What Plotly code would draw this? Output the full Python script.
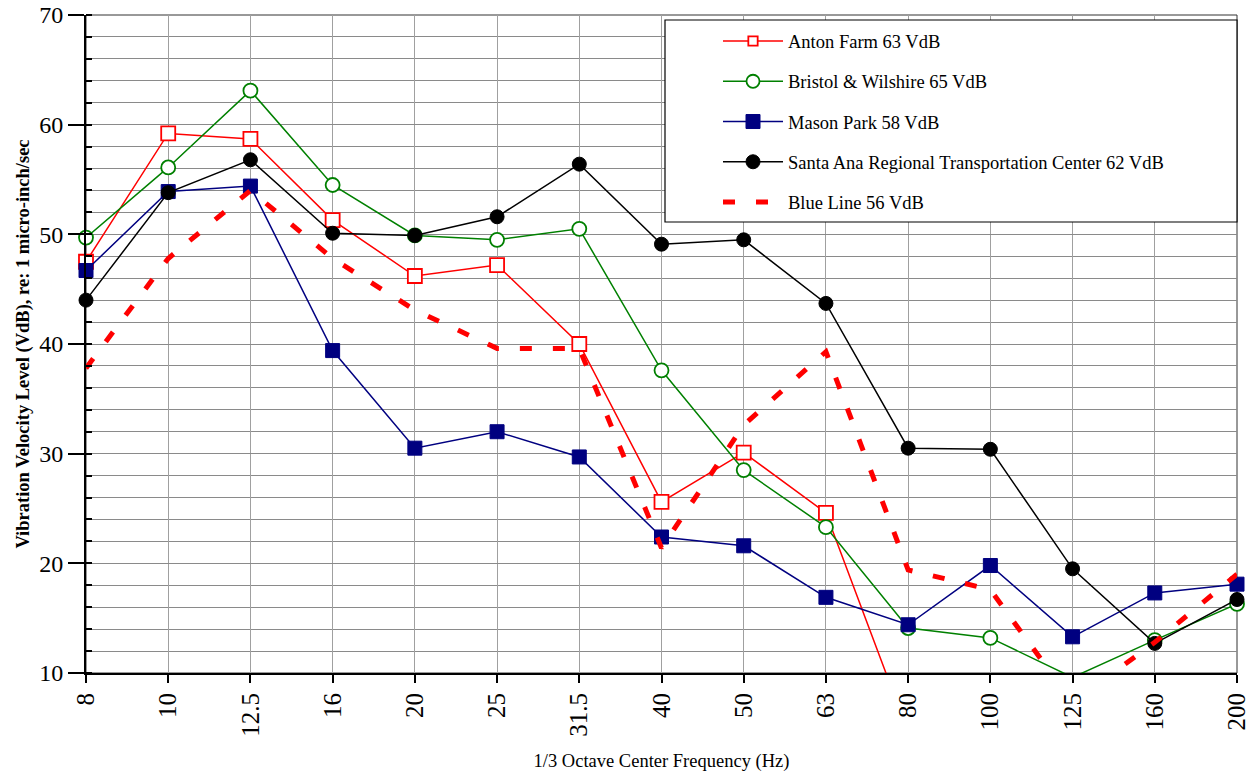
import plotly.graph_objects as go

freqs = ["8", "10", "12.5", "16", "20", "25", "31.5", "40", "50", "63", "80", "100", "125", "160", "200"]

anton_farm = [47.5, 59.2, 58.7, 51.3, 46.2, 47.2, 40.0, 25.6, 30.1, 24.6, 4.6, 3.5, 3.0, 4.0, 5.0]
bristol_wilshire = [49.7, 56.1, 63.1, 54.5, 49.9, 49.5, 50.5, 37.6, 28.5, 23.3, 14.1, 13.2, 9.6, 13.0, 16.3]
mason_park = [46.7, 53.9, 54.4, 39.4, 30.5, 32.0, 29.7, 22.4, 21.6, 16.9, 14.4, 19.8, 13.3, 17.3, 18.1]
santa_ana = [44.0, 53.8, 56.8, 50.1, 49.9, 51.6, 56.4, 49.1, 49.5, 43.7, 30.5, 30.4, 19.5, 12.7, 16.7]
blue_line = [37.8, 47.8, 54.0, 47.8, 43.1, 39.6, 39.6, 21.4, 32.6, 39.3, 19.4, 17.6, 7.3, 12.8, 19.0]

names = [
    "Anton Farm 63 VdB",
    "Bristol & Wilshire 65 VdB",
    "Mason Park 58 VdB",
    "Santa Ana Regional Transportation Center 62 VdB",
    "Blue Line 56 VdB",
]

Y_MIN, Y_MAX = 10, 70
FONT = "Liberation Serif"


def visible_sizes(values, size):
    return [size if v >= Y_MIN else 0 for v in values]


MS = 14

fig = go.Figure()

fig.add_trace(go.Scatter(
    x=freqs, y=anton_farm, name=names[0], mode="lines+markers", legendgroup="a",
    line=dict(color="#FF0000", width=1.5),
    marker=dict(symbol="square", size=visible_sizes(anton_farm, MS), color="white", opacity=1,
                line=dict(color="#FF0000", width=1.8)),
    cliponaxis=False,
))
fig.add_trace(go.Scatter(
    x=freqs, y=bristol_wilshire, name=names[1], mode="lines+markers", legendgroup="b",
    line=dict(color="#008000", width=1.5),
    marker=dict(symbol="circle", size=visible_sizes(bristol_wilshire, MS), color="white", opacity=1,
                line=dict(color="#008000", width=1.8)),
    cliponaxis=False,
))
fig.add_trace(go.Scatter(
    x=freqs, y=mason_park, name=names[2], mode="lines+markers", legendgroup="c",
    line=dict(color="#000080", width=1.5),
    marker=dict(symbol="square", size=visible_sizes(mason_park, MS), color="#000080", opacity=1,
                line=dict(color="#000080", width=1)),
    cliponaxis=False,
))
fig.add_trace(go.Scatter(
    x=freqs, y=santa_ana, name=names[3], mode="lines+markers", legendgroup="d",
    line=dict(color="#000000", width=1.5),
    marker=dict(symbol="circle", size=visible_sizes(santa_ana, MS), color="#000000", opacity=1,
                line=dict(color="#000000", width=1)),
    cliponaxis=False,
))
fig.add_trace(go.Scatter(
    x=freqs, y=blue_line, name=names[4], mode="lines", legendgroup="e",
    line=dict(color="#FF0000", width=5, dash="12px,21px"),
))

grid_color = "#8a8a8a"

fig.update_xaxes(
    type="category", categoryorder="array", categoryarray=freqs,
    range=[0, len(freqs) - 1], automargin=False,
    showgrid=True, gridcolor="#a0a0a0", gridwidth=1.2,
    showline=True, linecolor="black", linewidth=2,
    ticks="outside", ticklen=8, tickcolor="black", tickwidth=1.5,
    tickangle=-90, tickfont=dict(family=FONT, size=25, color="black"),
    title=dict(text="1/3 Octave Center Frequency (Hz)",
               font=dict(family=FONT, size=18.5, color="black"), standoff=18),
    zeroline=False,
)
fig.update_yaxes(
    range=[Y_MIN, Y_MAX], dtick=10, tick0=0, automargin=False,
    showgrid=True, gridcolor=grid_color, gridwidth=1,
    minor=dict(dtick=2, showgrid=True, gridcolor=grid_color, gridwidth=1,
               ticks="inside", ticklen=6, tickcolor="black"),
    showline=True, linecolor="black", linewidth=2,
    ticks="outside", ticklen=16, tickcolor="black", tickwidth=1.5,
    tickfont=dict(family=FONT, size=24, color="black"),
    title=dict(text="<b>Vibration Velocity Level (VdB), re: 1 micro-inch/sec</b>",
               font=dict(family=FONT, size=18.5, color="black"), standoff=5),
    zeroline=False,
)

# plot frame
fig.add_shape(type="rect", xref="paper", yref="paper", x0=0, x1=1, y0=0, y1=1,
              line=dict(color="#333333", width=1), layer="below")
# legend box
fig.add_shape(type="rect", xref="paper", yref="paper",
              x0=(665 - 86) / 1151, x1=1.0, y0=1 - (222 - 15) / 658, y1=1 - (20 - 15) / 658,
              line=dict(color="black", width=1.2), fillcolor="white", layer="above")

fig.update_layout(
    width=1255, height=772,
    margin=dict(l=86, r=18, t=15, b=99, autoexpand=False),
    paper_bgcolor="white", plot_bgcolor="white",
    font=dict(family=FONT, color="black"),
    showlegend=True,
    legend=dict(
        x=(718 - 86) / 1151, y=1 - (22.5 - 15) / 658, xanchor="left", yanchor="top",
        bgcolor="rgba(0,0,0,0)", borderwidth=0,
        font=dict(family=FONT, size=18.5, color="black"),
        tracegroupgap=13.2, itemwidth=60,
    ),
)

# remove the default page margin so the figure sits at the window's top-left corner
fig.write_html("out.html", config={"displayModeBar": False},
               post_script="document.body.style.margin='0px';")
